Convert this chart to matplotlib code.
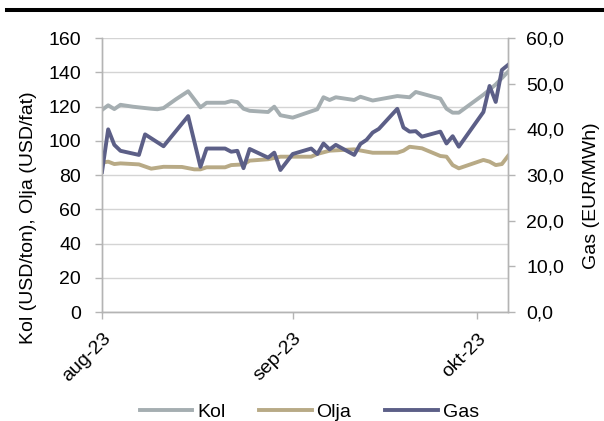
import datetime as dt
import matplotlib
matplotlib.use("Agg")
import matplotlib.pyplot as plt
import matplotlib.dates as mdates
from matplotlib.lines import Line2D
from matplotlib.ticker import FuncFormatter

plt.rcParams["font.family"] = ["Liberation Sans", "DejaVu Sans"]

start = dt.date(2023, 8, 1)

# dagar efter 1 aug 2023 -> värde
kol_days = [0, 1, 2, 3, 5, 7, 8, 9, 10, 12, 14, 16, 17, 20, 21, 22, 23, 24, 27, 28, 29, 31,
            35, 36, 37, 38, 41, 42, 44, 48, 50, 51, 55, 56, 57, 58, 62, 63, 64, 66]
kol = [118.0, 120.7, 118.5, 121.0, 119.9, 119.1, 118.7, 118.4, 119.1, 124.2, 128.9, 119.5,
       122.2, 122.2, 123.2, 122.6, 118.7, 117.5, 116.8, 119.9, 114.9, 113.5,
       118.4, 125.4, 123.8, 125.4, 123.8, 125.7, 123.5, 126.1, 125.4, 128.5, 124.6, 118.7,
       116.4, 116.4, 126.9, 129.8, 132.9, 140.3]

olja_days = [0, 1, 2, 3, 6, 8, 10, 13, 15, 16, 17, 20, 21, 23, 24, 27, 29, 31, 34, 35, 37,
             41, 44, 48, 49, 50, 52, 55, 56, 57, 58, 62, 63, 64, 65, 66]
olja = [87.2, 87.8, 86.4, 86.8, 86.2, 83.7, 84.8, 84.7, 83.3, 83.3, 84.5, 84.5, 85.8, 86.2,
        88.4, 89.2, 90.7, 90.7, 90.7, 92.3, 94.2, 95.0, 93.0, 93.0, 94.2, 96.5, 95.6, 91.1,
        90.7, 85.8, 83.9, 88.8, 87.8, 85.8, 86.4, 91.1]

gas_days = [0, 1, 2, 3, 6, 7, 10, 14, 16, 17, 20, 21, 22, 23, 24, 27, 28, 29, 31, 34, 35,
            36, 37, 38, 41, 42, 43, 44, 45, 48, 49, 50, 51, 52, 55, 56, 57, 58, 62, 63, 64,
            65, 66]
gas = [30.7, 40.0, 36.6, 35.3, 34.4, 38.9, 36.3, 42.9, 31.8, 35.8, 35.8, 35.1, 35.3, 31.5,
       35.7, 33.8, 34.9, 31.1, 34.6, 35.8, 34.6, 36.9, 35.6, 36.6, 34.4, 36.8, 37.7, 39.3,
       40.1, 44.5, 40.4, 39.5, 39.6, 38.4, 39.5, 36.9, 38.5, 36.2, 43.8, 49.5, 46.0, 53.0,
       54.1]

month_ticks = ["2023-08-01", "2023-09-01", "2023-10-01"]
month_labels = ["aug-23", "sep-23", "okt-23"]


def to_dates(days):
    return [start + dt.timedelta(days=d) for d in days]


c_kol = "#a5aeb1"
c_olja = "#b8aa86"
c_gas = "#5c5f87"
c_axis = "#b4b4b4"
fs = 14

fig = plt.figure(figsize=(6.04, 4.21), dpi=100)
ax = fig.add_axes([0.1689, 0.2589, 0.6722, 0.6508])
ax2 = ax.twinx()

l1, = ax.plot(to_dates(kol_days), kol, color=c_kol, lw=2.8, label="Kol")
l2, = ax.plot(to_dates(olja_days), olja, color=c_olja, lw=2.8, label="Olja")
l3, = ax2.plot(to_dates(gas_days), gas, color=c_gas, lw=2.8, label="Gas")

ax.set_ylim(0, 160)
ax.set_yticks(range(0, 161, 20))
ax2.set_ylim(0, 60)
ax2.set_yticks(range(0, 61, 10))
ax2.yaxis.set_major_formatter(FuncFormatter(lambda v, p: f"{v:.1f}".replace(".", ",")))

ax.set_xlim(start, dt.date(2023, 10, 6))
ax.set_xticks([dt.date.fromisoformat(s) for s in month_ticks])
ax.xaxis.set_major_formatter(mdates.DateFormatter("%b-%y"))
ax.set_xticklabels(month_labels, rotation=45, ha="right", rotation_mode="anchor")

ax.grid(axis="y", color="#d4d4d4", lw=1)
ax.set_axisbelow(True)
for a in (ax, ax2):
    a.spines["top"].set_visible(False)
    for s in ("left", "right", "bottom"):
        a.spines[s].set_color(c_axis)
        a.spines[s].set_linewidth(1)
    a.tick_params(colors=c_axis, labelcolor="black", labelsize=fs, length=5, width=1)
ax.tick_params(axis="y", pad=10)
ax.tick_params(axis="x", pad=8)
ax2.tick_params(axis="y", pad=8)

ax.set_ylabel("Kol (USD/ton), Olja (USD/fat)", fontsize=fs)
ax.yaxis.set_label_coords(-0.160, 0.343)
ax2.set_ylabel("Gas (EUR/MWh)", fontsize=fs)
ax2.yaxis.set_label_coords(1.185, 0.423)

fig.legend(handles=[l1, l2, l3], loc="center", bbox_to_anchor=(0.512, 0.022), ncol=3,
           frameon=False, fontsize=fs, handlelength=2.7, columnspacing=1.75,
           handletextpad=0.25)

fig.add_artist(Line2D([0.0116, 1.0], [0.977, 0.977], color="black", lw=2.9))

fig.savefig("out.png", dpi=100)
